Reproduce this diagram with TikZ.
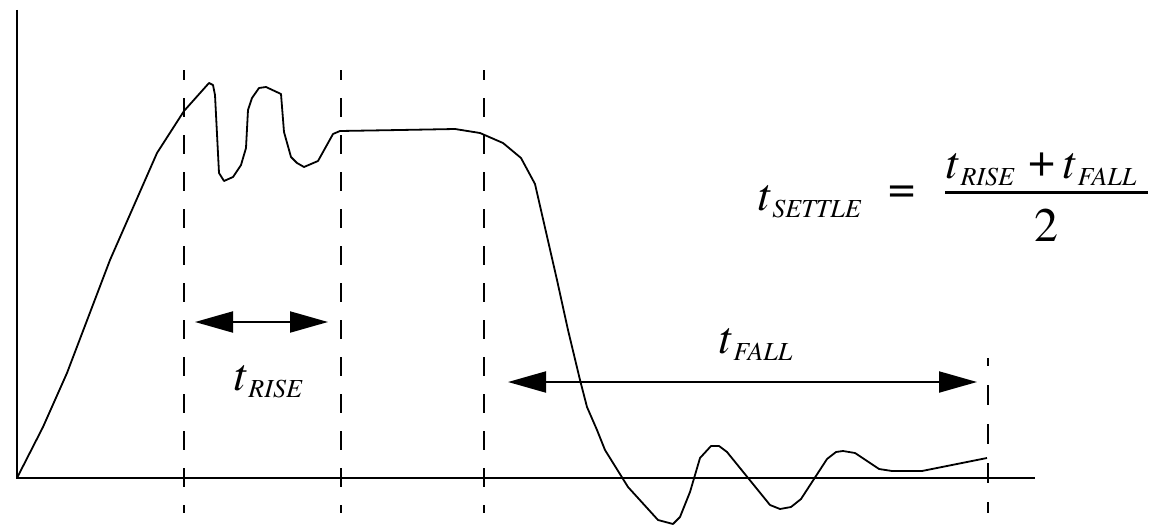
\documentclass[tikz,border=0pt]{standalone}
\usepackage{fontspec}
\IfFontExistsTF{texgyretermes-regular.otf}
  {\setmainfont{texgyretermes}[Extension=.otf,UprightFont=*-regular,ItalicFont=*-italic,BoldFont=*-bold,BoldItalicFont=*-bolditalic]}
  {}
\usetikzlibrary{arrows.meta}
\newcommand{\tlabel}[1]{{\fontsize{46}{46}\selectfont\itshape t}\kern2.5pt\raisebox{-7pt}{\fontsize{26}{26}\selectfont\itshape #1}}
\tikzset{
  axis/.style={line width=2pt},
  guide/.style={line width=2pt, dash pattern=on 19pt off 18pt, dash phase=9pt},
  signal/.style={line width=1.8pt, line join=round},
  span/.style={line width=2pt, {Triangle[length=38pt,width=21pt]}-{Triangle[length=38pt,width=21pt]}},
  lbl/.style={inner sep=0pt, anchor=base west},
  sym/.style={inner sep=0pt, font=\fontsize{48}{48}\selectfont}
}
\begin{document}
\begin{tikzpicture}[x=1pt,y=-1pt]
\useasboundingbox (0,0) rectangle (1161,527);
% axes
\coordinate (o) at (17,478);
\coordinate (ytop) at (17,10);
\coordinate (xend) at (1035,478);
\draw[axis] (ytop) -- (o) -- (xend);
% dashed guides
\coordinate (g1t) at (184,70);  \coordinate (g1b) at (184,513);
\coordinate (g2t) at (341,70);  \coordinate (g2b) at (341,513);
\coordinate (g3t) at (484,70);  \coordinate (g3b) at (484,513);
\coordinate (g4t) at (988,358); \coordinate (g4b) at (988,513);
\draw[guide] (g1t) -- (g1b);
\draw[guide] (g2t) -- (g2b);
\draw[guide] (g3t) -- (g3b);
\draw[line width=2pt, dash pattern=on 20pt off 19pt, dash phase=12pt] (g4t) -- (g4b);
% signal
\draw[signal] (17,478) -- (43,427) -- (67,373) -- (110,260) -- (157,153) -- (184,111) -- (209,83) -- (213,85) -- (215,95) -- (219,173) -- (224,181) -- (233,177) -- (241,165) -- (246,148) -- (248,110) -- (252,98) -- (259,88) -- (266,87) -- (281,94) -- (284,132) -- (291,157) -- (297,163) -- (304,167) -- (318,161) -- (333,134) -- (340,131) -- (400,130) -- (455,129) -- (480,133) -- (503,143) -- (521,158) -- (535,184) -- (557,280) -- (568,330) -- (580,380) -- (587,407) -- (597,430) -- (605,450) -- (628,487) -- (658,520) -- (673,524) -- (680,517) -- (690,492) -- (700,458) -- (711,446) -- (719,446) -- (727,452) -- (770,505) -- (780,509) -- (791,507) -- (801,499) -- (827,459) -- (836,452) -- (843,451) -- (855,453) -- (879,469) -- (892,471) -- (922,471) -- (987,458);
% spans
\coordinate (ra) at (195,322); \coordinate (rb) at (328,322);
\draw[span] (ra) -- (rb);
\coordinate (fa) at (508,382); \coordinate (fb) at (977,382);
\draw[span] (fa) -- (fb);
% labels
\node[lbl] (trise) at (233,390) {\tlabel{RISE}};
\node[lbl] (tfall) at (718,353) {\tlabel{FALL}};
% formula
\node[lbl] (tsettle) at (757,210) {\tlabel{SETTLE}};
\node[sym] (eq) at (902,195) {=};
\node[lbl] (n1) at (945,178) {\tlabel{RISE}};
\node[sym] (plus) at (1042,165) {+};
\node[lbl] (n2) at (1062,178) {\tlabel{FALL}};
\coordinate (bara) at (945,192); \coordinate (barb) at (1148,192);
\draw[line width=3pt] (bara) -- (barb);
\node[sym, anchor=base] (two) at (1046,241) {2};
\end{tikzpicture}
\end{document}
